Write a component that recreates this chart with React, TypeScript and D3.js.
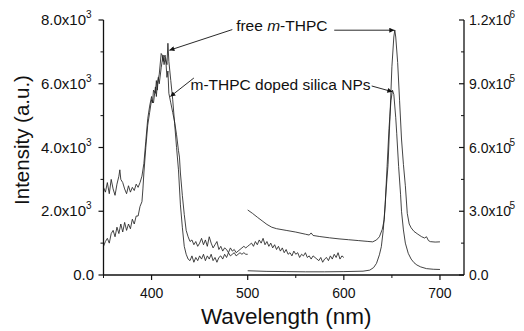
import React from "react";
import * as d3 from "d3";

// ---- data (wavelength nm, intensity) ----
// left axis (x10^3 counts): m-THPC doped silica NPs, 350-600 nm
const dopedUV_x = [350,352,354,356,358,360,362,364,366,367,368,370,372,374,376,378,380,382,384,386,388,390,392,394,396,398,400,401,402,404,405,406,407,408,410,412,413,414,415,416,417,418,420,422,424,426,428,429,430,432,434,436,438,440,442,444,446,448,450,452,454,456,458,460,462,464,466,468,470,472,474,476,478,480,482,484,486,488,490,492,494,496,498,500,502,504,506,508,510,512,514,516,518,520,522,524,526,528,530,532,534,536,538,540,542,544,546,548,550,552,554,556,558,560,562,564,566,568,570,572,574,576,578,580,582,584,586,588,590,592,594,596,598,600];
const dopedUV_y = [2750,2600,2900,2550,3000,2700,2500,2850,3100,3300,3000,2900,2700,2550,2800,2600,2750,2650,2850,2750,2900,3100,3500,4200,4900,5300,5600,5400,5800,5700,6100,5800,6200,6000,6500,6900,6600,6800,6650,6200,6400,5700,5400,5100,4800,4400,3900,3700,3200,2500,1900,1400,1200,1050,1100,950,1050,900,1000,1150,950,1100,900,1200,1000,850,950,1050,800,900,750,850,800,700,850,750,800,700,750,800,850,900,850,900,950,1000,900,1050,950,1100,1000,1150,950,1050,900,1000,850,950,800,900,750,850,700,800,650,700,600,750,650,700,550,650,600,700,550,600,500,600,550,500,450,550,400,500,550,450,600,500,650,550,700,500,600,550];
// left axis: free m-THPC, 350-500 nm
const freeUV_x = [350,352,354,356,358,360,362,364,366,368,370,372,374,376,378,380,382,384,386,388,390,391,392,394,396,398,400,402,404,405,406,408,410,411,412,414,416,417,418,420,422,424,426,428,430,432,434,436,438,440,442,444,446,448,450,452,454,456,458,460,462,464,466,468,470,472,474,476,478,480,482,484,486,488,490,492,494,496,498,500];
const freeUV_y = [900,1050,1150,1000,1300,1400,1200,1500,1300,1600,1350,1650,1400,1600,1450,1750,1600,1850,1850,2150,2300,2700,3200,4000,4700,5100,5500,5400,5900,5600,6000,6300,6950,6900,6700,6900,6600,7270,6700,6100,5500,4750,4000,3300,2200,1500,900,650,500,450,600,400,550,450,600,500,650,450,600,500,650,450,550,400,550,600,500,650,550,700,600,650,700,600,650,700,650,700,650,650];
// right axis (x10^5): free m-THPC, 500-700 nm
const freeVis_x = [500,505,510,515,520,525,530,540,550,560,564,566,568,575,585,595,605,615,625,630,634,637,640,642,644,646,648,650,652,653,654,656,658,660,662,664,666,668,670,673,677,681,684,686,688,690,695,700];
const freeVis_y = [306000,290000,272000,255000,238000,225000,218000,210000,202000,192000,188000,198000,186000,181000,175000,170000,166000,162000,158000,156000,165000,180000,215000,260000,400000,520000,745000,980000,1120000,1153000,1120000,1000000,820000,640000,520000,420000,290000,240000,222000,205000,192000,180000,174000,180000,162000,157000,155000,156000];
// right axis: m-THPC doped silica NPs, 500-700 nm
const dopedVis_x = [500,520,540,560,580,600,620,627,631,634,637,639,641,643,645,647,649,650.6,652,654,655,657,659,660,662,664,667,670,673,676,680,686,693,700];
const dopedVis_y = [20000,17000,16000,15000,15000,16000,18000,23000,35000,55000,95000,133000,210000,330000,510000,690000,820000,870000,850000,740000,667000,510000,380000,300000,212000,150000,102000,75000,58000,47000,38000,30000,27000,26000];

const leftTicks = [0, 2000, 4000, 6000, 8000];
const leftTickLabels = ["0.0", "2.0x10", "4.0x10", "6.0x10", "8.0x10"];
const leftTickExp = ["", "3", "3", "3", "3"];
const rightTicks = [0, 300000, 600000, 900000, 1200000];
const rightTickLabels = ["0.0", "3.0x10", "6.0x10", "9.0x10", "1.2x10"];
const rightTickExp = ["", "5", "5", "5", "6"];
const xTicks = [400, 500, 600, 700];
const xMinor = [350, 450, 550, 650];

const W = 524, H = 331;
const FONT = "'Liberation Sans', Arial, Helvetica, sans-serif";
const INK = "#111";

export default function App() {
  const x = d3.scaleLinear().domain([350, 725]).range([103.5, 464]);
  const yL = d3.scaleLinear().domain([0, 8000]).range([275, 20]);
  const yR = d3.scaleLinear().domain([0, 1200000]).range([275, 20]);
  const mk = (xs: number[], ys: number[], ys2: d3.ScaleLinear<number, number>) =>
    d3.line<number>().x((_, i) => x(xs[i])).y((_, i) => ys2(ys[i]))(xs.map((_, i) => i)) || "";

  const curves = [
    mk(dopedUV_x, dopedUV_y, yL),
    mk(freeUV_x, freeUV_y, yL),
    mk(freeVis_x, freeVis_y, yR),
    mk(dopedVis_x, dopedVis_y, yR),
  ];
  const leftMinor = d3.range(1000, 8000, 2000);
  const rightMinor = d3.range(150000, 1200000, 300000);

  // annotation anchors in data coords (left-axis units)
  const ann = {
    freeText: [488, 7650],
    freeLeftFrom: [484, 7700], freeLeftTo: [418.5, 7050],
    freeRightFrom: [590, 7680], freeRightTo: [652.5, 7680],
    dopedText: [440.5, 5800],
    dopedLeftFrom: [444, 6180], dopedLeftTo: [419.5, 5600],
    dopedRightFrom: [629, 5930], dopedRightTo: [650.5, 5750],
  };
  const P = (p: number[]) => [x(p[0]), yL(p[1])];

  const arrow = (from: number[], to: number[], key: string) => {
    const [x1, y1] = P(from), [x2, y2] = P(to);
    return <line key={key} x1={x1} y1={y1} x2={x2} y2={y2} stroke={INK} strokeWidth={0.9} markerEnd="url(#ah)" />;
  };

  return (
    <svg width={W} height={H} style={{ position: "absolute", left: 0, top: 0, background: "#fff" }} fontFamily={FONT}>
      <defs>
        <marker id="ah" viewBox="0 0 10 10" refX="10" refY="5" markerWidth="7" markerHeight="5" orient="auto" markerUnits="userSpaceOnUse">
          <path d="M0,0 L10,5 L0,10 z" fill={INK} />
        </marker>
      </defs>
      {/* curves */}
      {curves.map((d, i) => (
        <path key={i} d={d} fill="none" stroke="#222" strokeWidth={0.85} strokeLinejoin="round" />
      ))}
      {/* axes */}
      <line x1={x(350)} y1={20} x2={x(350)} y2={275} stroke={INK} strokeWidth={1.3} />
      <line x1={x(725)} y1={20} x2={x(725)} y2={275} stroke={INK} strokeWidth={1.3} />
      <line x1={x(350)} y1={275} x2={x(725)} y2={275} stroke={INK} strokeWidth={1.3} />
      {/* left ticks */}
      {leftTicks.map((t, i) => (
        <g key={"l" + i}>
          <line x1={x(350) - 5} x2={x(350)} y1={yL(t)} y2={yL(t)} stroke={INK} strokeWidth={1.2} />
          <text x={leftTickExp[i] ? 86 : 94} y={yL(t) + 5} textAnchor="end" fontSize={15} fill={INK}>{leftTickLabels[i]}</text>
          {leftTickExp[i] && <text x={86} y={yL(t) - 2} fontSize={10} fill={INK}>{leftTickExp[i]}</text>}
        </g>
      ))}
      {leftMinor.map((t) => (
        <line key={"lm" + t} x1={x(350) - 3} x2={x(350)} y1={yL(t)} y2={yL(t)} stroke={INK} strokeWidth={1} />
      ))}
      {/* right ticks (inward) */}
      {rightTicks.map((t, i) => (
        <g key={"r" + i}>
          <line x1={x(725) - 5} x2={x(725)} y1={yR(t)} y2={yR(t)} stroke={INK} strokeWidth={1.2} />
          <text x={469} y={yR(t) + 5} fontSize={14} fill={INK}>{rightTickLabels[i]}</text>
          {rightTickExp[i] && <text x={469 + 40.5} y={yR(t) - 2} fontSize={10} fill={INK}>{rightTickExp[i]}</text>}
        </g>
      ))}
      {rightMinor.map((t) => (
        <line key={"rm" + t} x1={x(725) - 3} x2={x(725)} y1={yR(t)} y2={yR(t)} stroke={INK} strokeWidth={1} />
      ))}
      {/* bottom ticks */}
      {xTicks.map((t) => (
        <g key={"x" + t}>
          <line x1={x(t)} x2={x(t)} y1={275} y2={280} stroke={INK} strokeWidth={1.2} />
          <text x={x(t)} y={298} textAnchor="middle" fontSize={14} fill={INK}>{t}</text>
        </g>
      ))}
      {xMinor.map((t) => (
        <line key={"xm" + t} x1={x(t)} x2={x(t)} y1={275} y2={278} stroke={INK} strokeWidth={1} />
      ))}
      {/* axis titles */}
      <text x={x(540)} y={324} textAnchor="middle" fontSize={22.5} fill={INK}>Wavelength (nm)</text>
      <text transform={`translate(29,140) rotate(-90)`} textAnchor="middle" fontSize={20.5} fill={INK}>Intensity (a.u.)</text>
      {/* annotations */}
      <text x={P(ann.freeText)[0]} y={P(ann.freeText)[1]} fontSize={15.5} fill={INK}>
        free <tspan fontStyle="italic">m</tspan>-THPC
      </text>
      <text x={P(ann.dopedText)[0]} y={P(ann.dopedText)[1]} fontSize={15.5} fill={INK}>m-THPC doped silica NPs</text>
      {arrow(ann.freeLeftFrom, ann.freeLeftTo, "a1")}
      {arrow(ann.freeRightFrom, ann.freeRightTo, "a2")}
      {arrow(ann.dopedLeftFrom, ann.dopedLeftTo, "a3")}
      {arrow(ann.dopedRightFrom, ann.dopedRightTo, "a4")}
    </svg>
  );
}
